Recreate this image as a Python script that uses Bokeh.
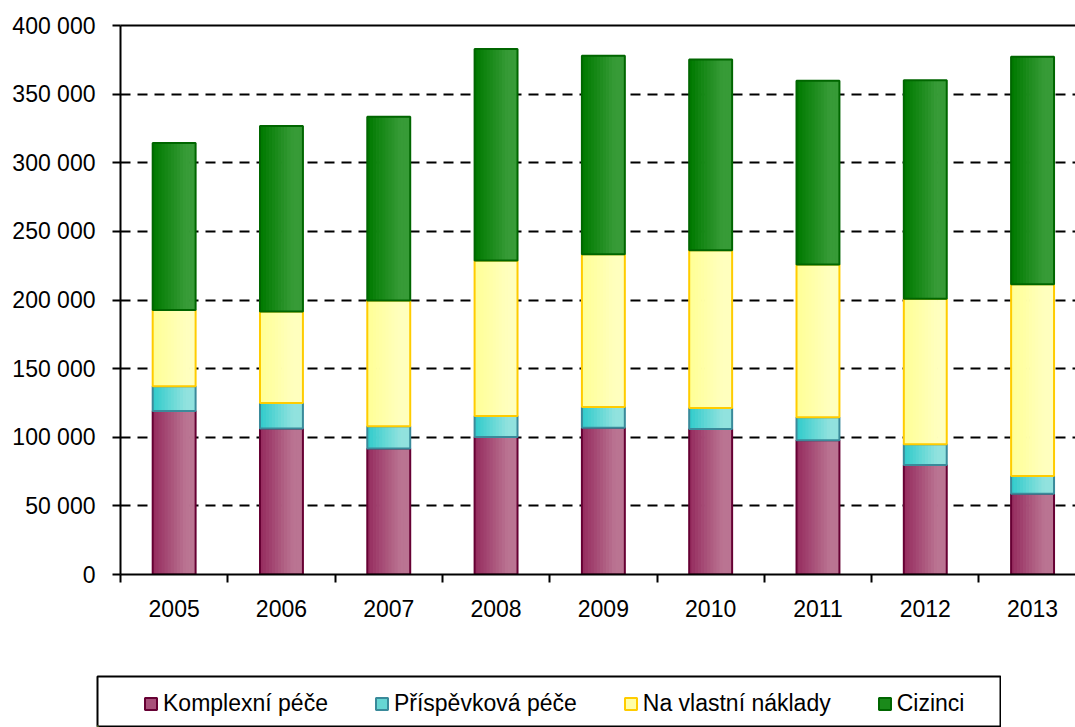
import numpy as np
from bokeh.plotting import figure
from bokeh.models import (ColumnDataSource, FixedTicker, LinearAxis, Range1d,
                          Legend, LegendItem, Spacer, Grid)
from bokeh.layouts import column, row
from bokeh.embed import file_html
from bokeh.resources import INLINE

# ---- data ----
years = ["2005", "2006", "2007", "2008", "2009", "2010", "2011", "2012", "2013"]
komplexni = [119200, 106400, 91800, 100200, 107000, 106000, 97800, 79800, 58900]
prispevkova = [18000, 18600, 16200, 15300, 15000, 15400, 16800, 15100, 12900]
vlastni = [55600, 66600, 91700, 113200, 111400, 114900, 111200, 106100, 139700]
cizinci = [121600, 135100, 133800, 154100, 144500, 138900, 133900, 159200, 165700]
series_names = ["Komplexní péče", "Příspěvková péče", "Na vlastní náklady", "Cizinci"]
y_ticks = [0, 50000, 100000, 150000, 200000, 250000, 300000, 350000, 400000]

# styles: (left colour, right colour, outline)
styles = [
    ((150, 45, 95), (186, 116, 146), "#660033"),
    ((51, 204, 204), (145, 226, 222), "#3A8A9A"),
    ((255, 255, 150), (255, 255, 190), "#FFCC00"),
    ((0, 122, 0), (55, 155, 55), "#006600"),
]
mid_colors = ["#A8507A", "#66D6D3", "#FFFFA8", "#1A8A1A"]

FONT = "Liberation Sans"
FS = "23px"

x = np.arange(1, len(years) + 1)

p = figure(width=1075, height=675, output_backend="svg", toolbar_location=None,
           x_range=Range1d(0.5, 9.4), y_range=Range1d(0, 400000),
           min_border_left=120, min_border_right=0, min_border_top=25,
           min_border_bottom=101, x_axis_type=None, y_axis_type=None)
p.outline_line_color = None
p.background_fill_color = "white"

# axes
yax = LinearAxis(ticker=FixedTicker(ticks=y_ticks))
yax.major_label_overrides = {t: f"{t:,}".replace(",", " ") for t in y_ticks}
yax.axis_line_color = "black"
yax.axis_line_width = 2
yax.major_tick_line_width = 2
yax.major_tick_out = 8
yax.major_tick_in = 0
yax.minor_tick_line_color = None
yax.major_label_text_font = FONT
yax.major_label_text_font_size = FS
yax.major_label_text_color = "black"
yax.major_label_standoff = 17
p.add_layout(yax, "left")

xax = LinearAxis(ticker=FixedTicker(ticks=list(x), minor_ticks=[v + 0.5 for v in range(0, 10)]))
xax.major_label_overrides = {int(v): y for v, y in zip(x, years)}
xax.axis_line_color = "black"
xax.axis_line_width = 2
xax.major_tick_out = 0
xax.major_tick_in = 0
xax.major_tick_line_color = None
xax.minor_tick_out = 8
xax.minor_tick_in = 0
xax.minor_tick_line_width = 2
xax.minor_tick_line_color = "black"
xax.major_label_text_font = FONT
xax.major_label_text_font_size = FS
xax.major_label_text_color = "black"
xax.major_label_standoff = 17
p.add_layout(xax, "below")

top_ax = LinearAxis(ticker=FixedTicker(ticks=[]))
top_ax.axis_line_color = "black"
top_ax.axis_line_width = 2
top_ax.major_tick_line_color = None
top_ax.minor_tick_line_color = None
top_ax.major_label_text_font_size = "0px"
p.add_layout(top_ax, "above")

grid = Grid(dimension=1, ticker=FixedTicker(ticks=y_ticks[1:-1]),
            grid_line_color="black", grid_line_width=2, grid_line_dash="10 7")
p.add_layout(grid)

# stacked bars with horizontal gradient
bar_w = 0.4
n_strips = 14
values = [komplexni, prispevkova, vlastni, cizinci]
bottom = np.zeros(len(years))

def lerp(c1, c2, t):
    return "#%02x%02x%02x" % tuple(int(round(a + (b - a) * t)) for a, b in zip(c1, c2))

for vals, (c1, c2, oc) in zip(values, styles):
    vals = np.array(vals, dtype=float)
    top = bottom + vals
    src = ColumnDataSource(dict(x=x, bottom=bottom.copy(), top=top.copy()))
    sw = bar_w / n_strips
    for k in range(n_strips):
        off = -bar_w / 2 + (k + 0.5) * sw
        t = k / (n_strips - 1)
        t = min(1.0, t / 0.8)
        ssrc = ColumnDataSource(dict(x=x + off, bottom=bottom.copy(), top=top.copy()))
        p.vbar(x="x", width=sw * 1.25, bottom="bottom", top="top", source=ssrc,
               fill_color=lerp(c1, c2, t), line_color=None)
    p.vbar(x="x", width=bar_w, bottom="bottom", top="top", source=src,
           fill_color=None, line_color=oc, line_width=2)
    bottom = top

# legend in a boxed panel below
lf = figure(width=905, height=52, output_backend="svg", toolbar_location=None,
            x_range=Range1d(0, 1), y_range=Range1d(0, 1), min_border=1,
            x_axis_type=None, y_axis_type=None)
lf.outline_line_color = "black"
lf.outline_line_width = 2
items = []
for name, mc, (c1, c2, oc) in zip(series_names, mid_colors, styles):
    # off-range placeholder renderer, only used for the legend swatch
    dsrc = ColumnDataSource(dict(x=[-10], top=[-10]))
    r = lf.vbar(x="x", top="top", width=0.1, source=dsrc, fill_color=mc,
                line_color=oc, line_width=2)
    items.append(LegendItem(label=name, renderers=[r]))
leg = Legend(items=items, orientation="horizontal", location=(46, 9),
             padding=0, margin=0, spacing=46, label_standoff=5,
             glyph_width=15, glyph_height=15,
             label_text_font=FONT, label_text_font_size=FS,
             label_text_color="black", border_line_alpha=0,
             background_fill_alpha=0)
lf.add_layout(leg, "center")

layout = column(p, row(Spacer(width=96, height=52), lf))

open("out.html", "w").write(file_html(layout, INLINE))
